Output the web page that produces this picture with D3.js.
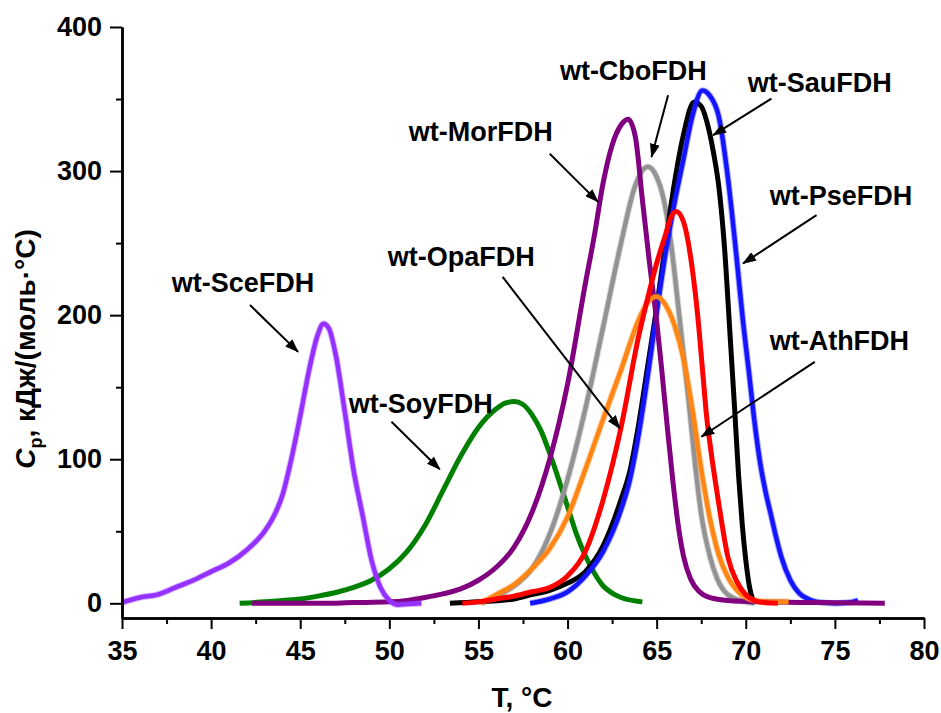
<!DOCTYPE html>
<html>
<head>
<meta charset="utf-8">
<script src="https://cdn.jsdelivr.net/npm/d3@7"></script>
<style>
body{margin:0;background:#fff;}
text{font-family:"Liberation Sans",Arial,sans-serif;font-weight:bold;fill:#000;}
</style>
</head>
<body>
<script>

// DSC curves, [T in °C, Cp in kJ/(mol·°C)]
var sceFDH = [[35,0.5],[36,4],[37,6],[38,11],[39,16],[40,22],[41,28],[42,37],[43,50],[43.5,60],[44,75],[44.5,100],[45,130],[45.5,162],[46,187],[46.3,194],[46.6,191],[47,172],[47.5,133],[48,92],[48.5,61],[49,30],[49.5,11],[50,2],[50.5,-1],[51,-0.5],[51.8,0]];
var soyFDH = [[41.6,0],[43,1],[44,2],[45,3],[46,5],[47,7.5],[48,11],[49,16],[50,24],[51,36],[52,54],[53,78],[54,102],[55,122],[56,135],[56.5,139],[57,140],[57.5,138],[58,131],[58.5,120],[59,104],[59.5,86],[60,67],[60.5,48],[61,33],[61.5,21],[62,12],[62.5,7],[63,4],[64.2,1]];
var morFDH = [[42.3,0],[46,0],[48,0.5],[50,1],[51,2],[52,4],[53,6.5],[54,10],[55,16],[56,25],[57,39],[58,63],[59,100],[60,152],[61,222],[61.5,255],[62,292],[62.5,318],[63,332],[63.4,336],[63.8,324],[64.2,280],[64.6,236],[65,196],[65.3,160],[65.6,122],[65.9,86],[66.2,55],[66.5,33],[66.9,17],[67.4,8],[68,4],[69,2],[71,1],[74,0.5],[77.8,0]];
var cboFDH = [[55.2,0],[56,5],[57,12],[58,24],[59,48],[60,86],[61,135],[62,192],[63,250],[63.8,290],[64.5,303],[65,296],[65.4,280],[65.8,250],[66.3,196],[66.8,140],[67.2,92],[67.5,62],[68,32],[68.4,17],[69,6],[70,1],[70.5,0]];
var opaFDH = [[55.1,0],[56,6],[57,13],[58,24],[59,38],[60,60],[61,93],[62,128],[63,162],[64,197],[64.5,209],[65,213],[65.5,207],[66,193],[66.5,170],[67,135],[67.5,93],[68,58],[68.5,33],[69,18],[69.5,9],[70,4],[70.5,2],[71.5,1],[72.4,1]];
var athFDH = [[54.1,0],[55,1],[56,3],[57,5],[58,8],[59,11],[60,19],[61,36],[62,72],[63,122],[64,186],[64.5,212],[65,236],[65.5,256],[65.8,268],[66.1,272],[66.5,265],[67,232],[67.3,200],[67.6,158],[67.8,130],[68,110],[68.5,68],[69,32],[69.5,15],[70,6],[70.5,2],[71,0.5],[71.8,0]];
var sauFDH = [[53.4,0],[55,1],[57,3],[58,6],[59,9],[60,14],[61,22],[62,40],[63,72],[63.5,92],[64,125],[64.5,165],[65,205],[65.5,250],[66,292],[66.5,325],[67.1,348],[67.5,345],[67.8,335],[68.2,312],[68.5,288],[68.8,248],[69.1,190],[69.35,140],[69.6,88],[69.8,55],[70,30],[70.2,12],[70.35,4],[70.5,0]];
var pseFDH = [[57.9,0],[59,3],[60,8],[61,19],[62,36],[63,65],[63.5,86],[64,118],[64.5,158],[65,202],[65.5,243],[66,278],[66.5,308],[67,338],[67.57,356],[68,352],[68.5,337],[69,295],[69.5,238],[69.85,195],[70.2,158],[70.5,125],[70.8,98],[71.1,78],[71.4,62],[71.7,46],[72,32],[72.5,16],[73,7],[73.5,3],[74,1],[75,0],[75.8,0.5],[76.3,2]];

// axis ticks
var xMajor = [35,40,45,50,55,60,65,70,75,80];
var xMinor = [37.5,42.5,47.5,52.5,57.5,62.5,67.5,72.5,77.5];
var yMajor = [0,100,200,300,400];
var yMinor = [50,150,250,350];

// labels: text, text anchor point [T,Cp], arrow start, arrow tip
var labelNames = ["wt-SceFDH","wt-SoyFDH","wt-OpaFDH","wt-MorFDH","wt-CboFDH","wt-SauFDH","wt-PseFDH","wt-AthFDH"];
var labelAt = [[37.79,216],[47.72,132],[49.91,234],[51.09,320.7],[59.57,363],[70.11,354.7],[71.34,276.4],[71.34,175.8]];
var arrowFrom = [[42.18,207],[50.12,126],[56.36,226.5],[59.0,312],[65.64,352.6],[71.44,350.3],[73.97,269.4],[73.87,167.6]];
var arrowTo = [[44.88,174.5],[52.83,93],[62.93,121.4],[61.71,278.6],[64.71,309.8],[68.17,324.9],[69.85,235.9],[67.51,115.6]];

var buildGraph = ()=>{

	var width = 941, height = 713;

	// scales
	var x = d3.scaleLinear().domain([35,80]).range([122,924]);
	var y = d3.scaleLinear().domain([-10.2,400]).range([618,27]);

	var svg = d3.select("body").append("svg")
	    .attr("width", width)
	    .attr("height", height);

	// drawing order matters: later ones sit on top
	// fuzzy = drawn from dense markers in the original, give it a soft edge
	var series = [
		{data: soyFDH, color: "#008000", fuzzy: false},
		{data: cboFDH, color: "#939393", fuzzy: true},
		{data: sauFDH, color: "#000000", fuzzy: false},
		{data: pseFDH, color: "#1414ff", fuzzy: true},
		{data: morFDH, color: "#800080", fuzzy: false},
		{data: sceFDH, color: "#9431ff", fuzzy: true},
		{data: opaFDH, color: "#ff8614", fuzzy: true},
		{data: athFDH, color: "#ff0000", fuzzy: false}
	];

	var line = d3.line()
	    .x(function(d) { return x(d[0]); })
	    .y(function(d) { return y(d[1]); })
	    .curve(d3.curveMonotoneX);

	for(var i = 0;i<series.length;i++){
	  if(series[i].fuzzy){
	    svg.append("path")
	        .datum(series[i].data)
	        .attr("fill", "none")
	        .attr("stroke", series[i].color)
	        .attr("stroke-opacity", 0.35)
	        .attr("stroke-width", 6.5)
	        .attr("stroke-linejoin", "round")
	        .attr("d", line);
	  }
	  svg.append("path")
	      .datum(series[i].data)
	      .attr("fill", "none")
	      .attr("stroke", series[i].color)
	      .attr("stroke-width", series[i].fuzzy ? 4.5 : 5)
	      .attr("stroke-linejoin", "round")
	      .attr("d", line);
	}

	// axes
	var styleAxis = function(g){
		g.select(".domain").attr("stroke-width", 2.5);
		g.selectAll(".tick line").attr("stroke-width", 2);
		g.selectAll("text").style("font-size", "27px").style("font-weight", "bold").attr("fill", "#000");
	};

	svg.append("g")
	    .attr("transform", "translate(0,618)")
	    .call(d3.axisBottom(x).tickValues(xMinor).tickSize(6).tickSizeOuter(0).tickFormat(""))
	    .call(styleAxis);
	svg.append("g")
	    .attr("transform", "translate(0,618)")
	    .call(d3.axisBottom(x).tickValues(xMajor).tickSize(11).tickSizeOuter(0).tickPadding(12).tickFormat(d3.format("d")))
	    .call(styleAxis);

	svg.append("g")
	    .attr("transform", "translate(122,0)")
	    .call(d3.axisLeft(y).tickValues(yMinor).tickSize(6).tickSizeOuter(0).tickFormat(""))
	    .call(styleAxis);
	svg.append("g")
	    .attr("transform", "translate(122,0)")
	    .call(d3.axisLeft(y).tickValues(yMajor).tickSize(12).tickSizeOuter(0).tickPadding(8).tickFormat(d3.format("d")))
	    .call(styleAxis);

	// axis titles
	svg.append("text")
	    .attr("x", 522).attr("y", 707)
	    .attr("text-anchor", "middle")
	    .style("font-size", "28px")
	    .text("T, °C");

	var yt = svg.append("text")
	    .attr("transform", "translate(35,349) rotate(-90)")
	    .attr("text-anchor", "middle")
	    .style("font-size", "28px");
	yt.append("tspan").style("font-style", "italic").text("C");
	yt.append("tspan").attr("dy", 7).style("font-size", "18px").text("p");
	yt.append("tspan").attr("dy", -7).text(", кДж/(моль·°C)");

	// arrow head
	svg.append("defs").append("marker")
	    .attr("id", "head")
	    .attr("markerUnits", "userSpaceOnUse")
	    .attr("viewBox", "0 0 14 10")
	    .attr("markerWidth", 14).attr("markerHeight", 10)
	    .attr("refX", 13).attr("refY", 5)
	    .attr("orient", "auto")
	  .append("path")
	    .attr("d", "M0,0L14,5L0,10z")
	    .attr("fill", "#000");

	for(var j = 0;j<labelNames.length;j++){
	  svg.append("line")
	      .attr("x1", x(arrowFrom[j][0])).attr("y1", y(arrowFrom[j][1]))
	      .attr("x2", x(arrowTo[j][0])).attr("y2", y(arrowTo[j][1]))
	      .attr("stroke", "#000")
	      .attr("stroke-width", 2)
	      .attr("marker-end", "url(#head)");
	  svg.append("text")
	      .attr("x", x(labelAt[j][0]))
	      .attr("y", y(labelAt[j][1]))
	      .style("font-size", "27px")
	      .text(labelNames[j]);
	}
};

buildGraph();
</script>
</body>
</html>
